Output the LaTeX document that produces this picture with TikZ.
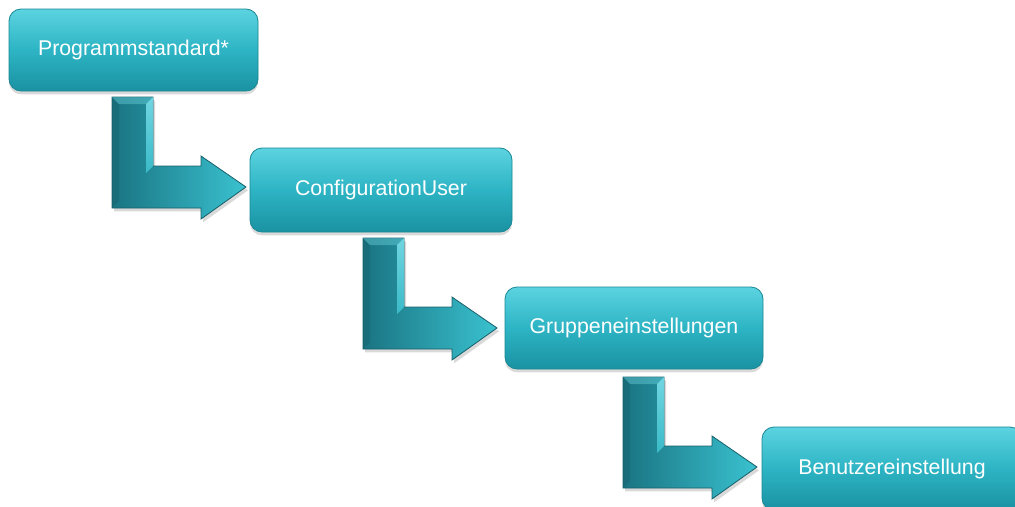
\documentclass[tikz,border=0pt]{standalone}
\usepackage{fontspec}
\setmainfont{Liberation Sans}
\usetikzlibrary{shadows}
\newdimen\px \px=0.75pt
\definecolor{boxtop}{HTML}{5CD3E0}
\definecolor{boxmid}{HTML}{2DB4C4}
\definecolor{boxbot}{HTML}{1A92A2}
\definecolor{boxedge}{HTML}{1A8794}
\definecolor{arrl}{HTML}{1A7482}
\definecolor{arrr}{HTML}{3AC2D0}
\definecolor{arredge}{HTML}{175F69}
\definecolor{hilite}{HTML}{7FE4EF}
\definecolor{hilitelo}{HTML}{3FC3D1}
\tikzset{
  stepbox/.style={draw=boxedge, line width=0.6pt, rounded corners=9pt,
    top color=boxtop, bottom color=boxbot, middle color=boxmid,
    text=white, font=\fontsize{16}{19}\selectfont, inner sep=0pt,
    drop shadow={opacity=0.3, shadow xshift=0pt, shadow yshift=-2.5pt}},
  bentarrow/.style={draw=arredge, line width=0.6pt, left color=arrl, right color=arrr,
    drop shadow={opacity=0.3, shadow xshift=1.5pt, shadow yshift=-2.5pt}},
  bevellight/.style={top color=hilite, bottom color=hilitelo, opacity=0.85},
}
\newcommand\bentarr[1]{%
  \begin{scope}[shift={(#1)}]
    \path[bentarrow] (0,0) -- (41,0) -- (41,69) -- (89,69) -- (89,59) -- (134,90)
      -- (89,122) -- (89,111) -- (0,111) -- cycle;
    \path[bevellight] (41,0) -- (41,69) -- (34,76) -- (34,7) -- cycle;
    \fill[arredge, opacity=0.35] (0,0) -- (7,7) -- (7,104) -- (0,111) -- cycle;
    \fill[hilite, opacity=0.35] (0,0) -- (41,0) -- (34,7) -- (7,7) -- cycle;
  \end{scope}}
\begin{document}
\begin{tikzpicture}[x=0.75pt, y=-0.75pt]
  \useasboundingbox (0,0) rectangle (1015,507);
  \clip (0,0) rectangle (1015,507);
  \coordinate (a1) at (112,97);
  \coordinate (a2) at (363,238);
  \coordinate (a3) at (623,377);
  \bentarr{a1}
  \bentarr{a2}
  \bentarr{a3}
  \node[stepbox, minimum width=249\px, minimum height=82\px] (b1) at (133.5,50) {Programmstandard*};
  \node[stepbox, minimum width=262\px, minimum height=84\px] (b2) at (381,190) {ConfigurationUser};
  \node[stepbox, minimum width=258\px, minimum height=82\px] (b3) at (634,328) {Gruppeneinstellungen};
  \node[stepbox, minimum width=260\px, minimum height=83\px] (b4) at (892,468.5) {Benutzereinstellung};
\end{tikzpicture}
\end{document}
